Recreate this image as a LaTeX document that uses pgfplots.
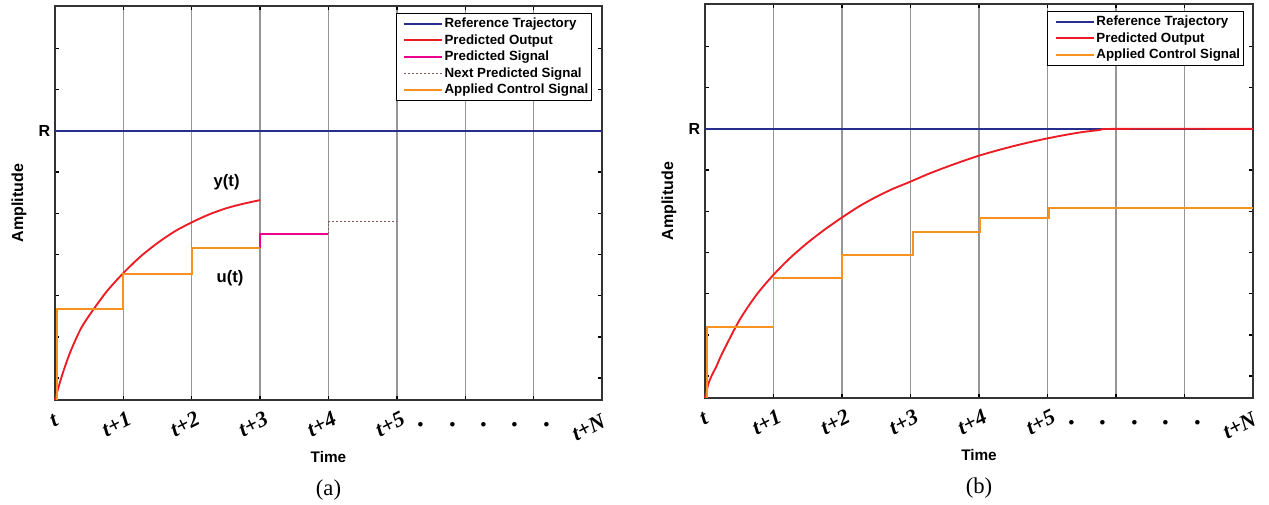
\documentclass[border=0pt]{standalone}
\usepackage{pgfplots}
\pgfplotsset{compat=1.18}
\usepackage{fontspec}
\setmainfont{Liberation Serif}
\setsansfont{Liberation Sans}
\definecolor{refblue}{RGB}{40,46,140}
\definecolor{predred}{RGB}{237,28,36}
\definecolor{ctrlorange}{RGB}{247,146,30}
\definecolor{sigmag}{RGB}{236,0,140}
\definecolor{nextbrown}{RGB}{130,90,90}
\definecolor{gridgray}{RGB}{150,150,150}
\pgfplotsset{
  mpc/.style={
    scale only axis, height=295.5pt, clip=false,
    xmin=0, xmax=8, ymin=0, ymax=9.56,
    xtick={0,1,2,3,4,5,6,7,8},
    xticklabels={{\hspace*{10pt}t},t+1,t+2,t+3,t+4,t+5,,,{t+N\hspace*{11pt}}},
    ytick={0.53,1.53,2.53,3.53,4.53,5.53,6.53,7.53,8.53},
    yticklabels={,,,,,,R,,},
    tick align=inside, major tick length=3pt,
    tick style={black, line width=1pt},
    xmajorgrids, grid style={gridgray, line width=1pt},
    axis line style={line width=1.4pt, black!80},
    xticklabel style={anchor=center, xshift=-5.25pt, yshift=-18pt, rotate=27,
      font=\bfseries\itshape\fontsize{16.5}{16.5}\selectfont},
    yticklabel style={font=\bfseries\sffamily\fontsize{12}{12}\selectfont},
    extra x ticks={5.47,5.93,6.39,6.84,7.31},
    extra x tick labels={{\fontsize{21}{21}\selectfont.},{\fontsize{21}{21}\selectfont.},{\fontsize{21}{21}\selectfont.},{\fontsize{21}{21}\selectfont.},{\fontsize{21}{21}\selectfont.}},
    extra x tick style={grid=none, major tick length=0pt, tick style={draw=none}},
    xlabel={Time}, ylabel={Amplitude},
    xlabel style={at={(axis description cs:0.5,0)}, anchor=center, yshift=-42.75pt,
      font=\bfseries\sffamily\fontsize{11.5}{11.5}\selectfont},
    ylabel style={at={(axis description cs:0,0.5)}, anchor=center, yshift=27pt,
      font=\bfseries\sffamily\fontsize{12}{12}\selectfont},
    legend cell align=left,
    legend image code/.code={\path (0pt,0pt); \draw[##1] (3.5pt,0pt) -- (32.5pt,0pt);},
    legend style={anchor=north east, draw=black, line width=0.8pt,
      font=\bfseries\sffamily\fontsize{10}{10}\selectfont,
      inner sep=1.5pt, row sep=0pt,
      nodes={inner sep=1pt, text height=8pt, text depth=2.4pt}},
    every axis plot/.append style={line width=1.4pt},
  }
}
\begin{document}
\begin{tikzpicture}
\useasboundingbox (0,0) rectangle (951.75pt,378.75pt);
% (a)
\begin{axis}[mpc, width=410.25pt, at={(41.25pt,78.75pt)}, anchor=south west,
  legend style={at={(rel axis cs:0.982,0.982)}}]
\addplot[refblue] coordinates {(0,6.53) (8,6.53)};
\addlegendentry{Reference Trajectory}
\addplot[predred, smooth] coordinates {
 (0,0) (0.05,0.3) (0.1,0.58) (0.175,0.95) (0.25,1.27) (0.375,1.72) (0.5,2.05)
 (0.75,2.62) (1,3.08) (1.25,3.48) (1.5,3.81) (1.75,4.09) (2,4.31) (2.25,4.5)
 (2.5,4.65) (2.75,4.76) (3,4.85)};
\addlegendentry{Predicted Output}
\addplot[sigmag] coordinates {(3,3.68) (3,4.02) (4,4.02)};
\addlegendentry{Predicted Signal}
\addplot[nextbrown, line width=1.3pt, dash pattern=on 1.4pt off 1.6pt] coordinates {(4,4.02) (4,4.33) (5,4.33)};
\addlegendentry{Next Predicted Signal}
\addplot[ctrlorange] coordinates {(0.03,0) (0.03,2.2) (1,2.2) (1,3.06) (2,3.06) (2,3.68) (3,3.68)};
\addlegendentry{Applied Control Signal}
\node[font=\bfseries\sffamily\fontsize{12.5}{12.5}\selectfont] at (axis cs:2.51,5.29) {y(t)};
\node[font=\bfseries\sffamily\fontsize{12.5}{12.5}\selectfont] at (axis cs:2.56,2.96) {u(t)};
\node[font=\fontsize{17}{17}\selectfont] at (rel axis cs:0.5,0) [yshift=-67.5pt] {(a)};
\end{axis}
% (b)
\begin{axis}[mpc, width=411pt, at={(528.75pt,80.25pt)}, anchor=south west,
  legend style={at={(rel axis cs:0.9836,0.982)}}]
\addplot[refblue] coordinates {(0,6.53) (8,6.53)};
\addlegendentry{Reference Trajectory}
\addplot[predred, smooth] coordinates {
 (0,0) (0.05,0.35) (0.1,0.55) (0.17,0.78) (0.25,1.08) (0.5,1.88) (0.75,2.5) (1,2.99)
 (1.25,3.41) (1.5,3.77) (1.75,4.09) (2,4.38) (2.25,4.65) (2.5,4.88) (2.75,5.08)
 (3,5.25) (3.25,5.43) (3.5,5.59) (3.75,5.74) (4,5.88) (4.25,6.0) (4.5,6.11)
 (4.75,6.21) (5,6.3) (5.25,6.38) (5.5,6.45) (5.75,6.5) (6,6.53) (8,6.53)};
\addlegendentry{Predicted Output}
\addplot[ctrlorange] coordinates {(0.03,0) (0.03,1.72) (1,1.72) (1,2.92) (2,2.92) (2,3.47)
 (3.03,3.47) (3.03,4.02) (4.02,4.02) (4.02,4.36) (5.02,4.36) (5.02,4.62) (8,4.62)};
\addlegendentry{Applied Control Signal}
\node[font=\fontsize{17}{17}\selectfont] at (rel axis cs:0.5,0) [yshift=-67.5pt] {(b)};
\end{axis}
\end{tikzpicture}
\end{document}
